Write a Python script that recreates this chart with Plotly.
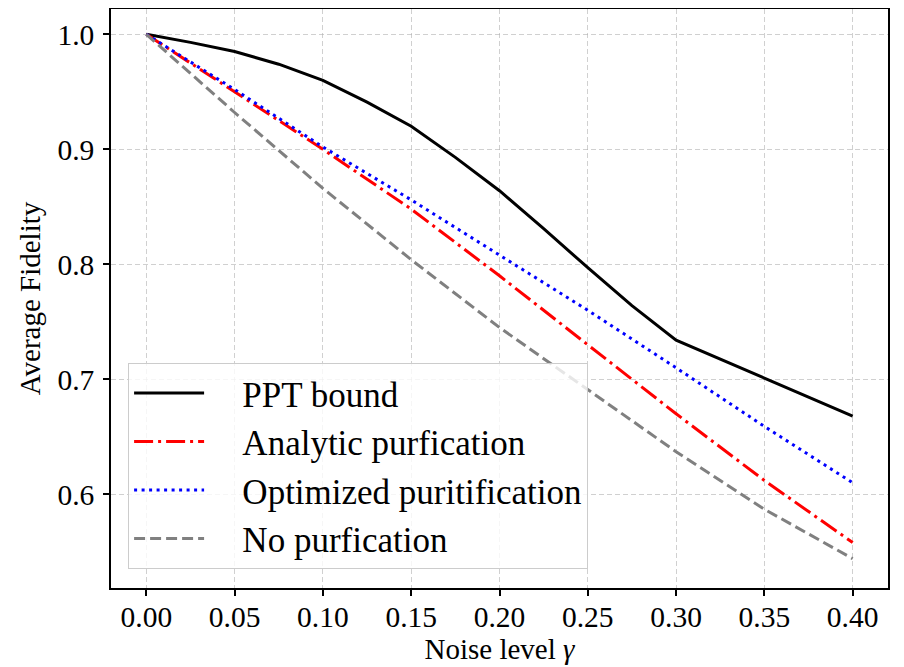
import plotly.graph_objects as go

# ---- data ----
gamma_ppt = [0.0, 0.025, 0.05, 0.075, 0.1, 0.125, 0.15, 0.175, 0.2, 0.225, 0.25, 0.275, 0.3, 0.35, 0.4]
ppt_bound = [1.0, 0.993, 0.985, 0.974, 0.960, 0.941, 0.920, 0.893, 0.864, 0.831, 0.797, 0.764, 0.734, 0.701, 0.668]

gamma = [0.0, 0.05, 0.1, 0.15, 0.2, 0.25, 0.3, 0.35, 0.4]
analytic = [1.0, 0.950, 0.900, 0.848, 0.790, 0.730, 0.670, 0.612, 0.558]
optimized = [1.0, 0.952, 0.902, 0.856, 0.808, 0.760, 0.710, 0.659, 0.610]
no_purif = [1.0, 0.932, 0.866, 0.804, 0.745, 0.691, 0.637, 0.587, 0.544]

x_ticks = [0.0, 0.05, 0.1, 0.15, 0.2, 0.25, 0.3, 0.35, 0.4]
x_tick_labels = ["0.00", "0.05", "0.10", "0.15", "0.20", "0.25", "0.30", "0.35", "0.40"]
y_ticks = [0.6, 0.7, 0.8, 0.9, 1.0]
y_tick_labels = ["0.6", "0.7", "0.8", "0.9", "1.0"]

series_names = ["PPT bound", "Analytic purfication", "Optimized puritification", "No purfication"]

FONT = "Liberation Serif"
PAD = "\u00a0\u00a0\u00a0\u2009"  # gap between legend sample and label

fig = go.Figure()
fig.add_trace(go.Scatter(x=gamma_ppt, y=ppt_bound, mode="lines", name=PAD + series_names[0],
                         line=dict(color="black", width=3)))
fig.add_trace(go.Scatter(x=gamma, y=analytic, mode="lines", name=PAD + series_names[1],
                         line=dict(color="red", width=3, dash="19px,5px,3px,5px")))
fig.add_trace(go.Scatter(x=gamma, y=optimized, mode="lines", name=PAD + series_names[2],
                         line=dict(color="blue", width=3, dash="3px,4.5px")))
fig.add_trace(go.Scatter(x=gamma, y=no_purif, mode="lines", name=PAD + series_names[3],
                         line=dict(color="gray", width=3, dash="11px,5px")))

axis_common = dict(
    showline=True, linecolor="black", linewidth=1.5, mirror=True,
    ticks="outside", ticklen=6, tickwidth=1.5, tickcolor="black",
    showgrid=True, gridcolor="rgba(176,176,176,0.6)", griddash="5px,3px", gridwidth=1.2,
    zeroline=False, automargin=False,
    tickfont=dict(family=FONT, size=29.5, color="black"),
)

# page body adds an 8px offset, so the figure is 8px smaller and margins shifted
fig.update_layout(
    width=896, height=659,
    margin=dict(l=103, r=16, t=1, b=79),
    paper_bgcolor="white", plot_bgcolor="white",
    font=dict(family=FONT, color="black"),
    xaxis=dict(range=[-0.02, 0.42], tickvals=x_ticks, ticktext=x_tick_labels,
               ticklabelstandoff=-4,
               title=dict(text="Noise level <i>γ</i>", font=dict(family=FONT, size=29), standoff=2),
               **axis_common),
    yaxis=dict(range=[0.5185, 1.022], tickvals=y_ticks, ticktext=y_tick_labels,
               ticklabelstandoff=3,
               title=dict(text="Average Fidelity", font=dict(family=FONT, size=29), standoff=8),
               **axis_common),
    legend=dict(x=0.022, y=0.389, xanchor="left", yanchor="top",
                bgcolor="rgba(255,255,255,0.8)", bordercolor="#cccccc", borderwidth=1,
                font=dict(family=FONT, size=35), itemwidth=70),
    showlegend=True,
)

fig.write_html("out.html")
